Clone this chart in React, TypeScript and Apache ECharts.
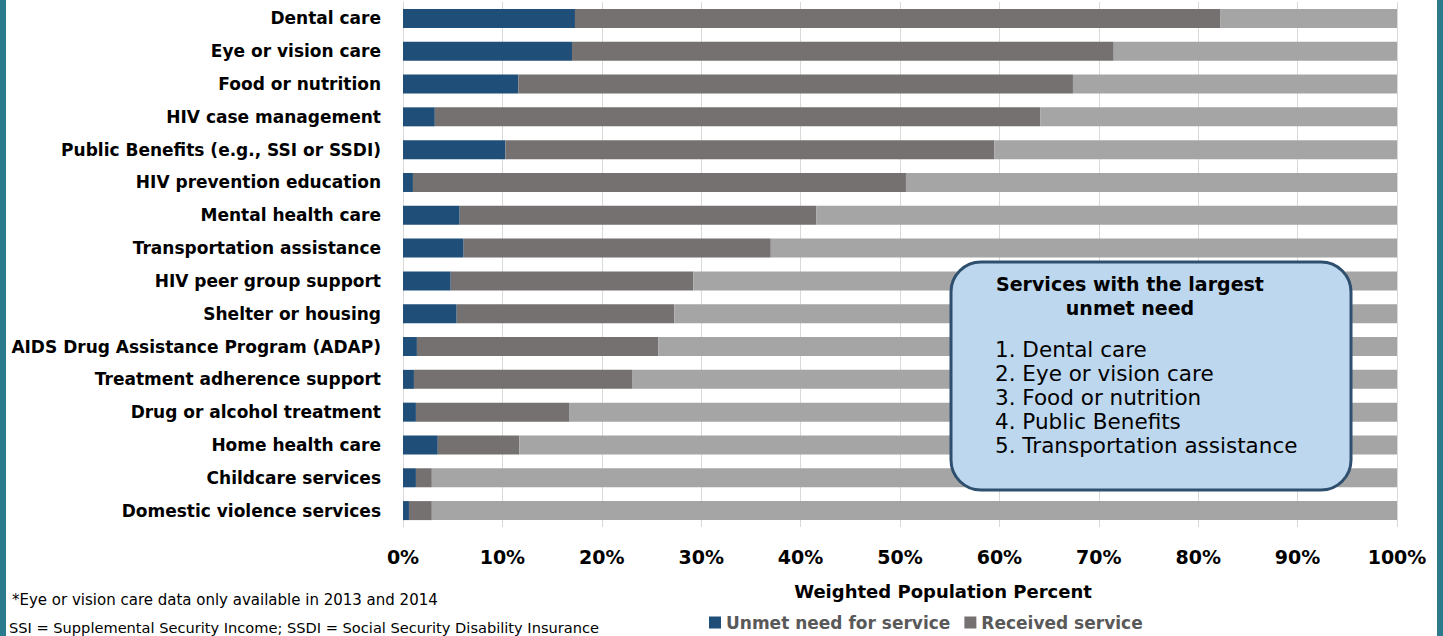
import React, { useEffect, useRef } from "react";
import * as echarts from "echarts";

const categories = [
  "Dental care",
  "Eye or vision care",
  "Food or nutrition",
  "HIV case management",
  "Public Benefits (e.g., SSI or SSDI)",
  "HIV prevention education",
  "Mental health care",
  "Transportation assistance",
  "HIV peer group support",
  "Shelter or housing",
  "AIDS Drug Assistance Program (ADAP)",
  "Treatment adherence support",
  "Drug or alcohol treatment",
  "Home health care",
  "Childcare services",
  "Domestic violence services",
];

const unmetNeed = [17.3, 17.0, 11.6, 3.2, 10.3, 1.0, 5.7, 6.1, 4.8, 5.4, 1.4, 1.1, 1.3, 3.5, 1.3, 0.6];
const receivedService = [64.9, 54.5, 55.8, 60.9, 49.2, 49.6, 35.9, 30.9, 24.4, 21.9, 24.3, 22.0, 15.4, 8.2, 1.6, 2.3];
const didNotNeed = [17.8, 28.5, 32.6, 35.9, 40.5, 49.4, 58.4, 63.0, 70.8, 72.7, 74.3, 76.9, 83.3, 88.3, 97.1, 97.1];

const xTicks = { min: 0, max: 100, interval: 10 };

const boxTitle = ["Services with the largest", "unmet need"];
const boxItems = [
  "1. Dental care",
  "2. Eye or vision care",
  "3. Food or nutrition",
  "4. Public Benefits",
  "5. Transportation assistance",
];

const footnotes = [
  "*Eye or vision care data only available in 2013 and 2014",
  "SSI = Supplemental Security Income; SSDI = Social Security Disability Insurance",
];

const FONT = "DejaVu Sans";

export default function App() {
  const ref = useRef<HTMLDivElement>(null);
  useEffect(() => {
    if (!ref.current) return;
    const chart = echarts.init(ref.current, undefined, { renderer: "svg" });
    const barW = 19;
    const option: any = {
      animation: false,
      backgroundColor: "#ffffff",
      textStyle: { fontFamily: FONT },
      grid: { left: 403, right: 46, top: 2, bottom: 109, containLabel: false },
      legend: {
        data: ["Unmet need for service", "Received service"],
        left: 704,
        top: 609,
        icon: "rect",
        itemWidth: 12,
        itemHeight: 12,
        itemGap: 14,
        textStyle: { fontFamily: FONT, fontWeight: "bold", fontSize: 17, color: "#595959" },
      },
      xAxis: {
        type: "value",
        min: xTicks.min,
        max: xTicks.max,
        interval: xTicks.interval,
        axisLabel: {
          formatter: "{value}%",
          fontFamily: FONT,
          fontWeight: "bold",
          fontSize: 19,
          color: "#000000",
          margin: 20,
        },
        axisLine: { show: false },
        axisTick: { show: false },
        splitLine: { show: true, lineStyle: { color: "#D9D9D9", width: 1 } },
      },
      yAxis: {
        type: "category",
        data: categories,
        inverse: true,
        axisLabel: {
          fontFamily: FONT,
          fontWeight: "bold",
          fontSize: 17,
          color: "#000000",
          margin: 22,
        },
        axisLine: { show: true, lineStyle: { color: "#D9D9D9" } },
        axisTick: { show: false },
      },
      series: [
        {
          name: "Unmet need for service",
          type: "bar",
          stack: "total",
          barWidth: barW,
          data: unmetNeed,
          itemStyle: { color: "#1F4E79" },
        },
        {
          name: "Received service",
          type: "bar",
          stack: "total",
          barWidth: barW,
          data: receivedService,
          itemStyle: { color: "#767171" },
        },
        {
          name: "Did not need service",
          type: "bar",
          stack: "total",
          barWidth: barW,
          data: didNotNeed,
          itemStyle: { color: "#A5A5A5" },
        },
      ],
      graphic: [
        { type: "rect", left: 0, top: 0, shape: { width: 6, height: 636 }, style: { fill: "#2B7B8C" }, z: 100 },
        { type: "rect", left: 1437, top: 0, shape: { width: 6, height: 636 }, style: { fill: "#2B7B8C" }, z: 100 },
        {
          type: "rect",
          x: 951,
          y: 262,
          shape: { width: 400, height: 228, r: 30 },
          style: { fill: "#BDD7EE", stroke: "#2F4F6F", lineWidth: 3 },
          z: 100,
        },
        ...boxTitle.map((t, i) => ({
          type: "text",
          x: 1130,
          y: 284 + i * 24,
          z: 101,
          style: {
            text: t,
            fill: "#000000",
            font: `bold 19px "${FONT}"`,
            textAlign: "center",
            textVerticalAlign: "middle",
          },
        })),
        ...boxItems.map((t, i) => ({
          type: "text",
          x: 995,
          y: 349 + i * 24,
          z: 101,
          style: {
            text: t,
            fill: "#000000",
            font: `21.5px "${FONT}"`,
            textAlign: "left",
            textVerticalAlign: "middle",
          },
        })),
        {
          type: "text",
          x: 943,
          y: 591,
          z: 101,
          style: {
            text: "Weighted Population Percent",
            fill: "#000000",
            font: `bold 18px "${FONT}"`,
            textAlign: "center",
            textVerticalAlign: "middle",
          },
        },
        ...footnotes.map((t, i) => ({
          type: "text",
          x: i === 0 ? 12 : 9,
          y: 600 + i * 27,
          z: 101,
          style: {
            text: t,
            fill: "#000000",
            font: i === 0 ? `15px "${FONT}"` : `14.6px "${FONT}"`,
            textAlign: "left",
            textVerticalAlign: "middle",
          },
        })),
      ],
    };
    chart.setOption(option);
    return () => chart.dispose();
  }, []);
  return (
    <div
      ref={ref}
      style={{ position: "fixed", left: 0, top: 0, width: 1443, height: 636 }}
    />
  );
}
